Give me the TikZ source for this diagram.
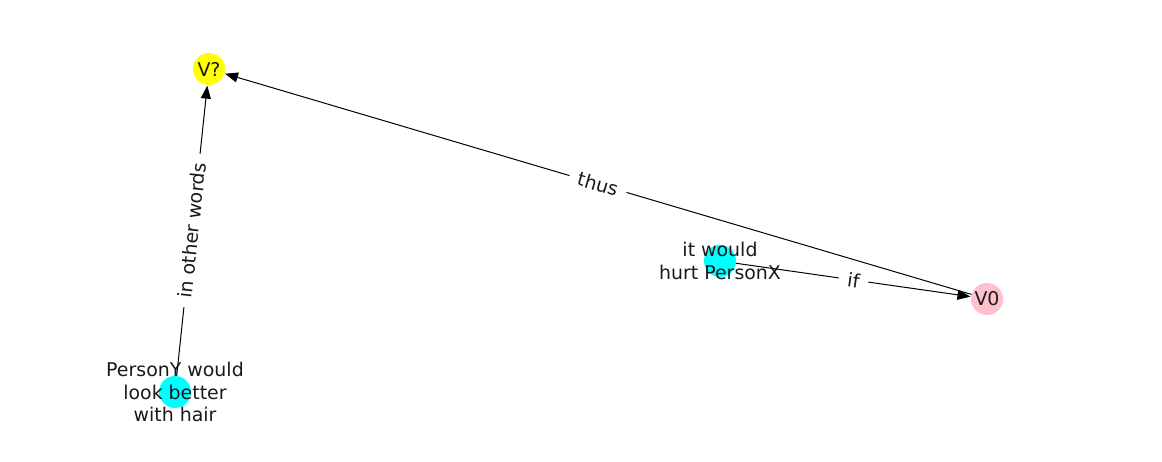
\documentclass[tikz,border=0pt]{standalone}
\usepackage{fontspec}
\setmainfont{DejaVu Sans}
\usetikzlibrary{arrows.meta}
\definecolor{nodepink}{HTML}{FFC0CB}
\definecolor{nodecyan}{HTML}{00FFFF}
\definecolor{nodeyellow}{HTML}{FFFF00}
\tikzset{
  vnode/.style={circle, minimum size=32bp, inner sep=0pt, draw=none},
  txt/.style={font=\fontsize{19}{22.5}\selectfont, align=center, text=black!90},
  edge/.style={line width=1bp, -{Triangle[length=13bp,width=10bp]}, shorten >=0.5bp},
  elabel/.style={midway, sloped, fill=white, inner xsep=9bp, inner ysep=4bp, font=\fontsize{19}{22.5}\selectfont, text=black!90}
}
\begin{document}
\begin{tikzpicture}[x=1bp,y=-1bp]
			%%%%% START %%%%%
			\useasboundingbox (0,0) rectangle (1162,462);
			
			\node[vnode, fill=nodeyellow, label={[txt]center:V?}] (vq) at (209,69) {};
			\node[vnode, fill=nodepink, label={[txt]center:V0}] (v0) at (987,299) {};
			\node[vnode, fill=nodecyan, label={[txt]center:{it would\\hurt PersonX}}] (hurt) at (720,261) {};
			\node[vnode, fill=nodecyan, label={[txt]center:{PersonY would\\look better\\with hair}}] (hair) at (175,392) {};
			
			\draw[edge] (v0) -- node[elabel] {thus} (vq);
			\draw[edge] (hurt) -- node[elabel] {if} (v0);
			\draw[edge] (hair) -- node[elabel] {in other words} (vq);
			
			%%%%% END %%%%%
		\end{tikzpicture}
\end{document}
